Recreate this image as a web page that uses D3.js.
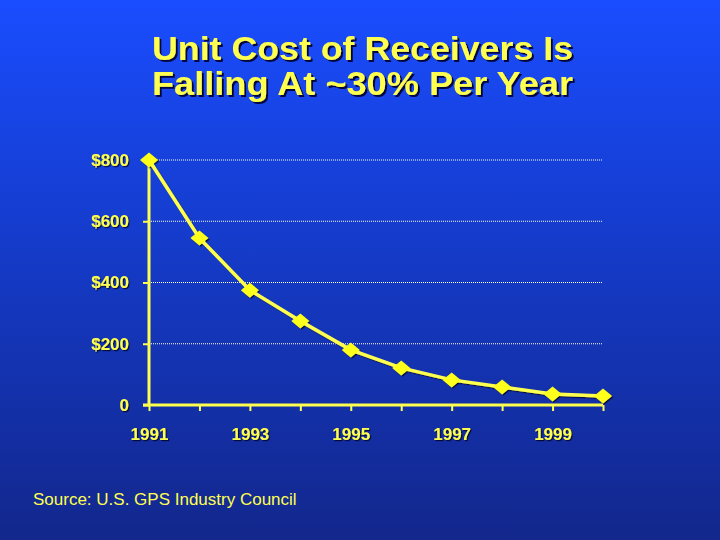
<!DOCTYPE html>
<html>
<head>
<meta charset="UTF-8">
<style>
  html, body { margin: 0; padding: 0; background: #14288f; }
  svg { display: block; }
</style>
<script src="https://cdn.jsdelivr.net/npm/d3@7"></script>
</head>
<body>
<div id="chart"></div>
<script>
  // data
  const years = [1991, 1992, 1993, 1994, 1995, 1996, 1997, 1998, 1999, 2000];
  const cost = [800, 545, 375, 274, 180, 121, 82, 59, 36, 29];
  const yTicks = [0, 200, 400, 600, 800];
  const xLabelYears = [1991, 1993, 1995, 1997, 1999];
  const titleLines = ["Unit Cost of Receivers Is", "Falling At ~30% Per Year"];
  const source = "Source: U.S. GPS Industry Council";

  const w = 720, h = 540;
  const yellow = "#ffff4f";
  const font = "'Liberation Sans', Arial, sans-serif";

  const svg = d3.select("#chart").append("svg")
    .attr("width", w)
    .attr("height", h);

  const defs = svg.append("defs");
  const grad = defs.append("linearGradient")
    .attr("id", "bg")
    .attr("x1", 0).attr("y1", 0).attr("x2", 0).attr("y2", 1);
  grad.append("stop").attr("offset", "0%").attr("stop-color", "#1a4dff");
  grad.append("stop").attr("offset", "50%").attr("stop-color", "#1439c4");
  grad.append("stop").attr("offset", "100%").attr("stop-color", "#13278c");

  const shadow = defs.append("filter").attr("id", "shadow")
    .attr("x", "-10%").attr("y", "-10%").attr("width", "130%").attr("height", "140%");
  shadow.append("feDropShadow")
    .attr("dx", 2).attr("dy", 2).attr("stdDeviation", 0.4)
    .attr("flood-color", "#000033").attr("flood-opacity", 0.9);

  const smallShadow = defs.append("filter").attr("id", "smallShadow")
    .attr("x", "-20%").attr("y", "-20%").attr("width", "150%").attr("height", "160%");
  smallShadow.append("feDropShadow")
    .attr("dx", 1.2).attr("dy", 1.2).attr("stdDeviation", 0.3)
    .attr("flood-color", "#000022").attr("flood-opacity", 0.8);

  svg.append("rect")
    .attr("width", w).attr("height", h)
    .attr("fill", "url(#bg)");

  // title: one text block, two lines
  const title = svg.append("text")
    .attr("filter", "url(#shadow)")
    .attr("fill", yellow)
    .style("font-family", font)
    .style("font-weight", "bold")
    .style("font-size", "34px");
  title.selectAll("tspan")
    .data(titleLines)
    .enter()
    .append("tspan")
    .attr("x", 152)
    .attr("y", (d, i) => 60 + i * 35)
    .attr("textLength", 421)
    .attr("lengthAdjust", "spacingAndGlyphs")
    .text(d => d);

  const xScale = d3.scaleLinear()
    .domain([1991, 2000])
    .range([149, 603]);
  const yScale = d3.scaleLinear()
    .domain([0, 800])
    .range([405, 160]);

  // dotted gridlines
  svg.append("g")
    .selectAll("line")
    .data(yTicks.filter(d => d > 0))
    .enter()
    .append("line")
    .attr("x1", xScale(1991))
    .attr("x2", xScale(2000))
    .attr("y1", d => yScale(d))
    .attr("y2", d => yScale(d))
    .attr("stroke", "#fffff0")
    .attr("stroke-width", 1)
    .attr("stroke-dasharray", "1,1");

  // y axis
  const yAxis = d3.axisLeft(yScale)
    .tickValues(yTicks)
    .tickSize(6)
    .tickPadding(14)
    .tickFormat(d => d === 0 ? "0" : "$" + d);
  const gy = svg.append("g")
    .attr("transform", `translate(${xScale(1991)},0)`)
    .call(yAxis);

  // x axis
  const xAxis = d3.axisBottom(xScale)
    .tickValues(years)
    .tickSize(6)
    .tickPadding(17)
    .tickFormat(d => xLabelYears.includes(d) ? String(d) : "");
  const gx = svg.append("g")
    .attr("transform", `translate(0,${yScale(0)})`)
    .call(xAxis);

  [gx, gy].forEach(g => {
    g.select(".domain").remove();
    g.selectAll(".tick line").attr("stroke", yellow).attr("stroke-width", 2);
    g.selectAll(".tick text")
      .attr("fill", yellow)
      .attr("filter", "url(#smallShadow)")
      .style("font-family", font)
      .style("font-weight", "bold")
      .style("font-size", "17px");
  });

  // axis lines
  svg.append("line")
    .attr("x1", xScale(1991)).attr("x2", xScale(1991))
    .attr("y1", yScale(800)).attr("y2", yScale(0))
    .attr("stroke", yellow).attr("stroke-width", 3);
  svg.append("line")
    .attr("x1", xScale(1991) - 6).attr("x2", xScale(2000))
    .attr("y1", yScale(0)).attr("y2", yScale(0))
    .attr("stroke", yellow).attr("stroke-width", 3);

  // series
  const pts = years.map((y, i) => ({ year: y, value: cost[i] }));
  const line = d3.line()
    .x(d => xScale(d.year))
    .y(d => yScale(d.value));

  const series = svg.append("g").attr("filter", "url(#smallShadow)");
  series.append("path")
    .datum(pts)
    .attr("d", line)
    .attr("fill", "none")
    .attr("stroke", yellow)
    .attr("stroke-width", 3.5);

  series.selectAll("path.marker")
    .data(pts)
    .enter()
    .append("path")
    .attr("class", "marker")
    .attr("d", "M0,-7.5L9,0L0,7.5L-9,0Z")
    .attr("transform", d => `translate(${xScale(d.year)},${yScale(d.value)})`)
    .attr("fill", "#ffff1a");

  // source note
  svg.append("text")
    .attr("x", 33)
    .attr("y", 505)
    .attr("fill", yellow)
    .style("font-family", font)
    .style("font-size", "17px")
    .text(source);
</script>
</body>
</html>
